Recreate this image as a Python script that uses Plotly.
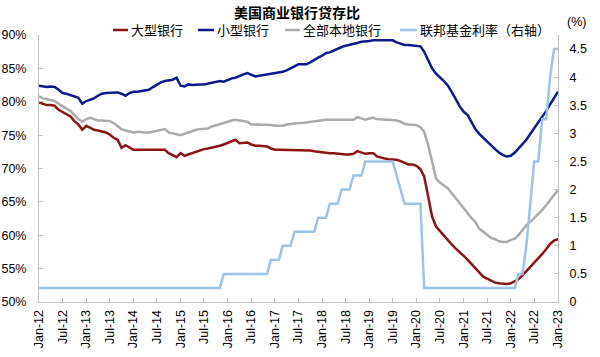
import pandas as pd
import plotly.graph_objects as go

dates = pd.date_range("2012-01-01", "2023-01-01", freq="MS")

large_banks = [
    79.9, 79.7, 79.5, 79.5, 79.4, 78.8, 78.5, 78.1, 77.8, 77.1, 76.6, 75.8,
    76.4, 76.1, 75.8, 75.7, 75.6, 75.4, 75.1, 74.6, 74.3, 73.1, 73.5, 73.1,
    72.8, 72.8, 72.8, 72.8, 72.7, 72.7, 72.7, 72.8, 72.8, 72.3, 72.0, 71.7,
    72.3, 71.9, 72.1, 72.3, 72.6, 72.8, 72.9, 73.0, 73.1, 73.3, 73.4, 73.6,
    73.8, 74.1, 74.3, 73.8, 73.9, 73.9, 73.6, 73.4, 73.4, 73.4, 73.3, 73.0,
    72.8, 72.8, 72.8, 72.7, 72.7, 72.7, 72.8, 72.7, 72.7, 72.7, 72.6, 72.5,
    72.5, 72.4, 72.3, 72.3, 72.2, 72.2, 72.1, 72.1, 72.2, 72.6, 72.4, 72.2,
    72.3, 72.3, 71.8, 71.6, 71.5, 71.4, 71.4, 71.3, 71.1, 70.8, 70.6, 70.6,
    70.4, 69.9, 68.8, 65.8, 62.8, 61.3, 60.6, 59.9, 59.2, 58.6, 58.0, 57.5,
    56.9, 56.3, 55.7, 55.0, 54.3, 53.8, 53.5, 53.2, 52.9, 52.8, 52.7, 52.7,
    52.8, 53.1, 53.4, 54.0, 54.6, 55.2, 55.8, 56.5, 57.2, 57.9, 58.7, 59.2,
    59.4,
]

small_banks = [
    82.4, 82.3, 82.2, 82.3, 82.2, 81.8, 81.3, 81.2, 81.0, 80.9, 80.6, 79.7,
    80.1, 80.3, 80.5, 80.9, 81.2, 81.3, 81.3, 81.4, 81.4, 81.2, 80.9, 81.3,
    81.5, 81.5, 81.6, 81.6, 81.8, 82.2, 82.6, 82.9, 83.1, 83.2, 83.3, 83.6,
    82.4, 82.3, 82.6, 82.5, 82.6, 82.6, 82.6, 82.7, 82.8, 82.9, 83.1, 83.0,
    83.3, 83.5, 83.6, 83.9, 84.1, 84.3, 84.1, 83.8, 83.9, 84.0, 84.1, 84.1,
    84.2, 84.3, 84.5, 84.7, 85.0, 85.3, 85.6, 85.6, 85.6, 85.9, 86.3, 86.6,
    86.9, 87.3, 87.4, 87.7, 88.0, 88.2, 88.4, 88.5, 88.6, 88.8, 89.0, 89.0,
    89.1, 89.2, 89.2, 89.3, 89.2, 89.3, 89.2, 88.9, 88.7, 88.5, 88.5, 88.4,
    88.4, 88.3, 87.5, 86.2, 85.0, 84.2, 83.7, 83.1, 82.4, 81.5, 80.4, 79.3,
    78.5, 78.0, 77.0, 75.9, 75.2, 74.6, 74.0, 73.4, 72.9, 72.4, 72.0, 71.8,
    71.9, 72.4, 73.0, 73.7, 74.3, 75.2, 76.0, 76.9, 77.7, 78.6, 79.6, 80.6,
    81.5,
]

all_banks = [
    80.8, 80.5, 80.4, 80.3, 80.1, 79.7, 79.3, 79.0, 78.6, 78.0, 77.4, 77.0,
    77.4, 77.6, 77.4, 77.2, 77.2, 77.1, 77.1, 76.8, 76.3, 75.9, 75.7, 75.5,
    75.4, 75.5, 75.4, 75.4, 75.4, 75.5, 75.6, 75.7, 75.9, 75.4, 75.3, 75.2,
    75.0, 75.2, 75.4, 75.7, 75.8, 75.9, 75.9, 76.0, 76.3, 76.5, 76.7, 76.9,
    77.0, 77.2, 77.3, 77.2, 77.1, 77.0, 76.6, 76.6, 76.6, 76.6, 76.5, 76.5,
    76.4, 76.4, 76.4, 76.6, 76.7, 76.8, 76.8, 76.8, 76.9, 77.0, 77.0, 77.1,
    77.2, 77.3, 77.3, 77.3, 77.3, 77.3, 77.3, 77.3, 77.3, 77.7, 77.5, 77.3,
    77.5, 77.6, 77.4, 77.3, 77.3, 77.3, 77.3, 77.2, 77.0, 76.7, 76.6, 76.6,
    76.5, 76.2, 75.5, 73.5, 70.8, 68.5, 67.9, 67.5, 67.0, 66.3, 65.5, 64.8,
    64.1, 63.3, 62.6, 62.0, 61.0, 60.5, 60.0, 59.6, 59.4, 59.1, 59.0, 59.0,
    59.3, 59.5, 60.0, 60.7, 61.5, 62.0, 62.6, 63.1, 63.8, 64.5, 65.3, 66.0,
    66.8,
]

fed_funds = [
    0.25, 0.25, 0.25, 0.25, 0.25, 0.25, 0.25, 0.25, 0.25, 0.25, 0.25, 0.25,
    0.25, 0.25, 0.25, 0.25, 0.25, 0.25, 0.25, 0.25, 0.25, 0.25, 0.25, 0.25,
    0.25, 0.25, 0.25, 0.25, 0.25, 0.25, 0.25, 0.25, 0.25, 0.25, 0.25, 0.25,
    0.25, 0.25, 0.25, 0.25, 0.25, 0.25, 0.25, 0.25, 0.25, 0.25, 0.25, 0.5,
    0.5, 0.5, 0.5, 0.5, 0.5, 0.5, 0.5, 0.5, 0.5, 0.5, 0.5, 0.75,
    0.75, 0.75, 1.0, 1.0, 1.0, 1.25, 1.25, 1.25, 1.25, 1.25, 1.25, 1.5,
    1.5, 1.5, 1.75, 1.75, 1.75, 2.0, 2.0, 2.0, 2.25, 2.25, 2.25, 2.5,
    2.5, 2.5, 2.5, 2.5, 2.5, 2.5, 2.5, 2.25, 2.0, 1.75, 1.75, 1.75,
    1.75, 1.75, 0.25, 0.25, 0.25, 0.25, 0.25, 0.25, 0.25, 0.25, 0.25, 0.25,
    0.25, 0.25, 0.25, 0.25, 0.25, 0.25, 0.25, 0.25, 0.25, 0.25, 0.25, 0.25,
    0.25, 0.25, 0.5, 0.5, 1.0, 1.75, 2.5, 2.5, 3.25, 3.25, 4.0, 4.5,
    4.5,
]

series_names = ["大型银行", "小型银行", "全部本地银行", "联邦基金利率（右轴）"]
series_colors = ["#8B1414", "#0D1A8A", "#ABABAB", "#9DC3E6"]

left_ticks = [50, 55, 60, 65, 70, 75, 80, 85, 90]
left_ticktext = [f"{v}%" for v in left_ticks]
right_ticks = [0, 0.5, 1, 1.5, 2, 2.5, 3, 3.5, 4, 4.5]
right_ticktext = ["0", "0.5", "1", "1.5", "2", "2.5", "3", "3.5", "4", "4.5"]

FONT = "Liberation Sans, Arial, Noto Sans CJK SC"
CJK = "Noto Sans CJK SC"
AXIS_COLOR = "#BFBFBF"

# plot area geometry in pixels (for converting the hand-drawn legend positions)
W, H = 600, 357
ML, MR, MT, MB = 39, 42, 35, 55
PW, PH = W - ML - MR, H - MT - MB


def px_x(px):
    return (px - ML) / PW


def px_y(py):
    return (H - MB - py) / PH


fig = go.Figure()
all_values = [large_banks, small_banks, all_banks, fed_funds]
for i, (name, vals, col) in enumerate(zip(series_names, all_values, series_colors)):
    fig.add_trace(go.Scatter(x=dates, y=vals, name=name, mode="lines",
                             line=dict(color=col, width=2.5),
                             yaxis="y2" if i == 3 else "y", showlegend=False))

# legend drawn by hand: line sample + label
legend_line_px = [(113, 128), (198, 214), (285, 300), (400, 417)]
legend_y_px = 30
shapes = []
annotations = []
for (x0, x1), name, col in zip(legend_line_px, series_names, series_colors):
    shapes.append(dict(type="line", xref="paper", yref="paper",
                       x0=px_x(x0), x1=px_x(x1), y0=px_y(legend_y_px), y1=px_y(legend_y_px),
                       line=dict(color=col, width=2.5)))
    annotations.append(dict(text=name, xref="paper", yref="paper",
                            x=px_x(x1 + 1), y=px_y(legend_y_px),
                            xanchor="left", yanchor="middle", showarrow=False,
                            font=dict(family=CJK, size=13, color="black")))

annotations.append(dict(text="(%)", xref="paper", yref="paper", x=px_x(576), y=px_y(22),
                        xanchor="center", yanchor="middle", showarrow=False,
                        font=dict(family=FONT, size=12.5, color="black")))

fig.update_layout(
    width=W, height=H,
    margin=dict(l=ML, r=MR, t=MT, b=MB, autoexpand=False),
    paper_bgcolor="white", plot_bgcolor="white",
    font=dict(family=FONT, size=12, color="black"),
    title=dict(text="<b>美国商业银行贷存比</b>", x=0.495, xanchor="center",
               y=0.963, yanchor="middle",
               font=dict(family=CJK, size=14, color="black")),
    showlegend=False,
    shapes=shapes,
    annotations=annotations,
    xaxis=dict(type="date", range=["2012-01-01", "2023-01-01"],
               tick0="2012-01-01", dtick="M6", tickformat="%b-%y",
               tickangle=-90, ticks="inside", ticklen=4, tickcolor=AXIS_COLOR,
               showline=True, linecolor=AXIS_COLOR, linewidth=1,
               showgrid=False, zeroline=False, automargin=False,
               ticklabelstandoff=2, tickfont=dict(size=12.5)),
    yaxis=dict(range=[50, 90], tickvals=left_ticks, ticktext=left_ticktext,
               ticks="inside", ticklen=4, tickcolor=AXIS_COLOR,
               showline=True, linecolor=AXIS_COLOR, linewidth=1,
               showgrid=False, zeroline=False, ticklabelstandoff=9,
               automargin=False, tickfont=dict(size=12.5)),
    yaxis2=dict(range=[0, 4.75], tickvals=right_ticks, ticktext=right_ticktext,
                overlaying="y", side="right",
                ticks="inside", ticklen=4, tickcolor=AXIS_COLOR,
                showline=True, linecolor=AXIS_COLOR, linewidth=1,
                showgrid=False, zeroline=False, ticklabelstandoff=8,
                automargin=False, tickfont=dict(size=12.5)),
)

fig.write_html("out.html",
               config={"displayModeBar": False, "staticPlot": True},
               post_script="document.body.style.margin='0';document.body.style.overflow='hidden';")
